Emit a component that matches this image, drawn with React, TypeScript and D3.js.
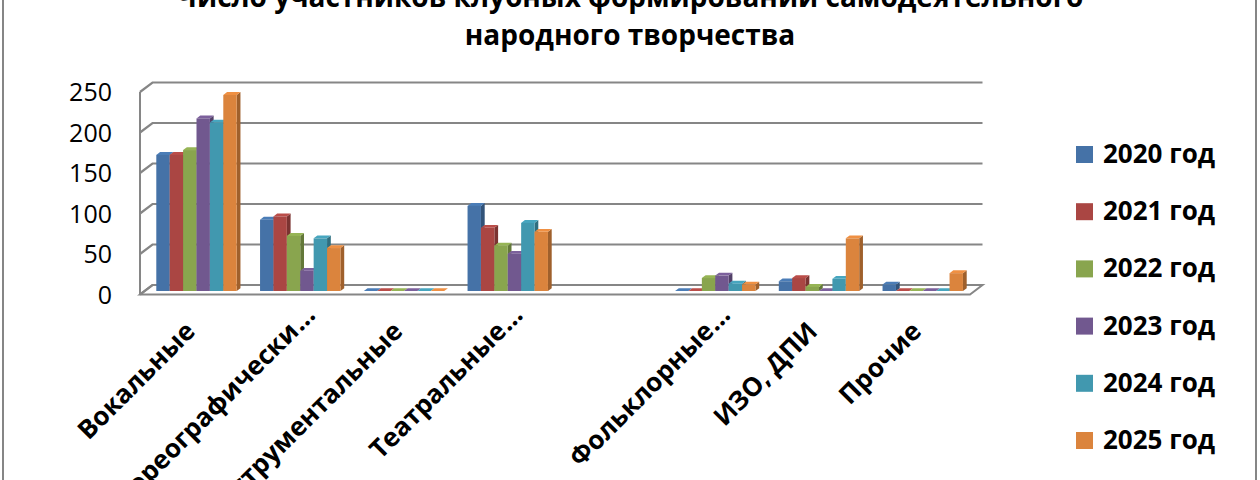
import * as d3 from "d3";
import React from "react";

// categories (5th category has no label and no data in the source)
const categories = [
  "Вокальные",
  "Хореографически…",
  "Инструментальные",
  "Театральные…",
  "",
  "Фольклорные…",
  "ИЗО, ДПИ",
  "Прочие",
];
const years = ["2020 год", "2021 год", "2022 год", "2023 год", "2024 год", "2025 год"];

const v2020 = [168, 88, 0, 105, null, 0, 12, 8];
const v2021 = [168, 92, 0, 78, null, 0, 16, 0];
const v2022 = [174, 68, 0, 56, null, 16, 5, 0];
const v2023 = [213, 25, 0, 46, null, 19, 0, 0];
const v2024 = [208, 65, 0, 84, null, 9, 15, 0];
const v2025 = [242, 53, 0, 73, null, 8, 65, 22];
const series = [v2020, v2021, v2022, v2023, v2024, v2025];

const yTicks = [0, 50, 100, 150, 200, 250];
const titleLines = [
  "Число участников клубных формирований самодеятельного",
  "народного творчества",
];

const colors = ["#4572A7", "#AA4643", "#89A54E", "#71588F", "#4198AF", "#DB843D"];
const gridColor = "#868686";
const font = "'Open Sans', 'Noto Sans', sans-serif";

export default function App() {
  const W = 1260;
  const H = 480;

  // front plane of the 3d box
  const x = d3
    .scaleBand<number>()
    .domain(d3.range(categories.length))
    .range([140, 970])
    .paddingInner(0.225)
    .paddingOuter(0.1125);
  const inner = d3.scaleBand<number>().domain(d3.range(years.length)).range([0, x.bandwidth()]);
  const y = d3.scaleLinear().domain([0, 250]).range([294.5, 92]);

  const depth = { x: 12.5, y: -9.5 };
  const f0 = 0.37; // where the bars stand
  const fb = 0.3; // bar depth
  const dx = depth.x * fb;
  const dy = depth.y * fb;

  const bars: JSX.Element[] = [];
  categories.forEach((_, ci) => {
    series.forEach((s, si) => {
      const v = s[ci];
      if (v === null || v === undefined) return;
      const x0 = x(ci)! + inner(si)! + depth.x * f0;
      const w = inner.bandwidth();
      const yb = y(0) + depth.y * f0;
      const yt = y(v) + depth.y * f0;
      const c = d3.color(colors[si])!;
      const side = c.darker(0.9).formatHex();
      const top = c.brighter(0.25).formatHex();
      bars.push(
        <g key={`${ci}-${si}`}>
          <polygon
            points={`${x0 + w},${yb} ${x0 + w},${yt} ${x0 + w + dx},${yt + dy} ${x0 + w + dx},${yb + dy}`}
            fill={side}
          />
          <polygon
            points={`${x0},${yt} ${x0 + w},${yt} ${x0 + w + dx},${yt + dy} ${x0 + dx},${yt + dy}`}
            fill={top}
          />
          {yb - yt > 0 && <rect x={x0} y={yt} width={w} height={yb - yt} fill={colors[si]} />}
        </g>
      );
    });
  });

  const xL = x.range()[0];
  const xR = x.range()[1];

  return (
    <svg
      width={W}
      height={H}
      viewBox={`0 0 ${W} ${H}`}
      style={{ position: "absolute", left: 0, top: 0, background: "#fff" }}
      fontFamily={font}
    >
      {/* chart frame */}
      <rect x={3} y={-20} width={1253} height={520} fill="#fff" stroke={gridColor} strokeWidth={2} />

      {/* title */}
      {titleLines.map((t, i) => (
        <text
          key={i}
          x={630}
          y={7 + i * 38}
          textAnchor="middle"
          fontSize={28}
          fontWeight="bold"
          fill="#000"
        >
          {t}
        </text>
      ))}

      {/* floor */}
      <polygon
        points={`${xL},${y(0)} ${xR},${y(0)} ${xR + depth.x},${y(0) + depth.y} ${xL + depth.x},${y(0) + depth.y}`}
        fill="#fff"
        stroke={gridColor}
        strokeWidth={2}
      />

      {/* grid: side wall + back wall */}
      {yTicks.map((t) => (
        <polyline
          key={t}
          points={`${xL},${y(t)} ${xL + depth.x},${y(t) + depth.y} ${xR + depth.x},${y(t) + depth.y}`}
          fill="none"
          stroke={gridColor}
          strokeWidth={2.2}
        />
      ))}
      <line x1={xL} x2={xL} y1={y(250)} y2={y(0)} stroke={gridColor} strokeWidth={2} />

      {/* y labels */}
      {yTicks.map((t) => (
        <text
          key={t}
          x={112}
          y={y(t) - 1}
          textAnchor="end"
          dominantBaseline="central"
          fontSize={25}
          fill="#000"
        >
          {t}
        </text>
      ))}

      {/* bars */}
      {bars}

      {/* x labels, rotated; a trailing ellipsis hangs past the tick */}
      {categories.map((c, i) => {
        const cut = c.endsWith("…");
        const main = cut ? c.slice(0, -1) : c;
        const cx = x(i)! + x.bandwidth() / 2 + depth.x * f0;
        return (
          <g key={i} transform={`translate(${cx},${333}) rotate(-45)`}>
            <text textAnchor="end" fontSize={26} fontWeight="bold" fill="#000">
              {main}
            </text>
            {cut && (
              <text x={1} fontSize={26} fontWeight="bold" fill="#000">
                …
              </text>
            )}
          </g>
        );
      })}

      {/* legend */}
      {years.map((yr, i) => (
        <g key={yr} transform={`translate(1076,${146 + i * 57.2})`}>
          <rect width={17} height={17} fill={colors[i]} />
          <text x={27} y={17} fontSize={26} fontWeight="bold" fill="#000">
            {yr}
          </text>
        </g>
      ))}
    </svg>
  );
}
